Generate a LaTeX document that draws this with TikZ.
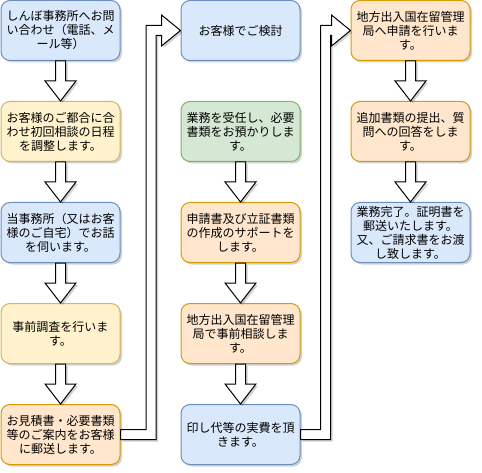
\documentclass[tikz,border=0pt]{standalone}
\usepackage{fontspec}
\newfontfamily\jp{Noto Sans CJK JP}
\usetikzlibrary{positioning, calc, shadows}

\definecolor{bluefill}{HTML}{DAE8FC}
\definecolor{blueline}{HTML}{6C8EBF}
\definecolor{yellowfill}{HTML}{FFF2CC}
\definecolor{yellowline}{HTML}{D6B656}
\definecolor{orangefill}{HTML}{FFE6CC}
\definecolor{orangeline}{HTML}{D79B00}
\definecolor{greenfill}{HTML}{D5E8D4}
\definecolor{greenline}{HTML}{82B366}

\begin{document}
\begin{tikzpicture}[
      x=1pt, y=1pt,
      node distance=40pt and 60pt,
      softshadow/.style={drop shadow={shadow xshift=2pt, shadow yshift=-2pt, opacity=0.18, fill=black}},
      box/.style={rectangle, draw, line width=1pt, rounded corners=9pt, minimum width=119pt, minimum height=60pt, inner sep=2pt, align=center, font=\jp\fontsize{12}{14}\selectfont, softshadow},
      bluebox/.style={box, fill=bluefill, draw=blueline},
      yellowbox/.style={box, fill=yellowfill, draw=yellowline},
      orangebox/.style={box, fill=orangefill, draw=orangeline},
      greenbox/.style={box, fill=greenfill, draw=greenline},
      flex/.style={draw=black, fill=white, line width=1pt, line join=miter, softshadow}
    ]
    \useasboundingbox (0,0) rectangle (482,472);

    % left column
    \node[bluebox] (l1) at (60.5,441.5) {しんぼ事務所へお問\\い合わせ（電話、メ\\ール等）};
    \node[yellowbox, below=of l1] (l2) {お客様のご都合に合\\わせ初回相談の日程\\を調整します。};
    \node[bluebox, below=of l2] (l3) {当事務所（又はお客\\様のご自宅）でお話\\を伺います。};
    \node[yellowbox, below=of l3] (l4) {事前調査を行いま\\す。};
    \node[orangebox, below=of l4] (l5) {お見積書・必要書類\\等のご案内をお客様\\に郵送します。};

    % middle column
    \node[bluebox, right=of l1] (m1) {お客様でご検討};
    \node[greenbox, below=of m1] (m2) {業務を受任し、必要\\書類をお預かりしま\\す。};
    \node[orangebox, below=of m2] (m3) {申請書及び立証書類\\の作成のサポートを\\します。};
    \node[orangebox, below=of m3] (m4) {地方出入国在留管理\\局で事前相談しま\\す。};
    \node[bluebox, below=of m4] (m5) {印し代等の実費を頂\\きます。};

    % right column
    \node[orangebox, right=50pt of m1] (r1) {地方出入国在留管理\\局へ申請を行いま\\す。};
    \node[orangebox, below=of r1] (r2) {追加書類の提出、質\\問への回答をしま\\す。};
    \node[bluebox, below=of r2] (r3) {業務完了。証明書を\\郵送いたします。\\又、ご請求書をお渡\\し致します。};

    % block arrows down each column
    \foreach \a/\b in {l1/l2, l2/l3, l3/l4, l4/l5, m2/m3, m3/m4, m4/m5, r1/r2, r2/r3}
      \draw[flex] ($(\a.south)+(-5,0)$) -- ($(\b.north)+(-5,20)$) -- ($(\b.north)+(-15.5,20)$)
        -- (\b.north) -- ($(\b.north)+(15.5,20)$) -- ($(\b.north)+(5,20)$) -- ($(\a.south)+(5,0)$) -- cycle;

    % block arrows up to the next column
    \coordinate (ua) at ($(l5.east)+(30.5,0)$);
    \coordinate (ub) at ($(m5.east)+(25,0)$);
    \draw[flex] ($(l5.east)+(0,5)$) -- ($(ua)+(-5,5)$) -- ($(ua|-m1.west)+(-5,5)$)
      -- ($(m1.west)+(-19,5)$) -- ($(m1.west)+(-19,15.5)$) -- (m1.west)
      -- ($(m1.west)+(-19,-15.5)$) -- ($(m1.west)+(-19,-5)$) -- ($(ua|-m1.west)+(5,-5)$)
      -- ($(ua)+(5,-5)$) -- ($(l5.east)+(0,-5)$) -- cycle;
    \draw[flex] ($(m5.east)+(0,5)$) -- ($(ub)+(-5,5)$) -- ($(ub|-r1.west)+(-5,5)$)
      -- ($(r1.west)+(-19,5)$) -- ($(r1.west)+(-19,15.5)$) -- (r1.west)
      -- ($(r1.west)+(-19,-15.5)$) -- ($(r1.west)+(-19,-5)$) -- ($(ub|-r1.west)+(5,-5)$)
      -- ($(ub)+(5,-5)$) -- ($(m5.east)+(0,-5)$) -- cycle;
  \end{tikzpicture}
\end{document}
